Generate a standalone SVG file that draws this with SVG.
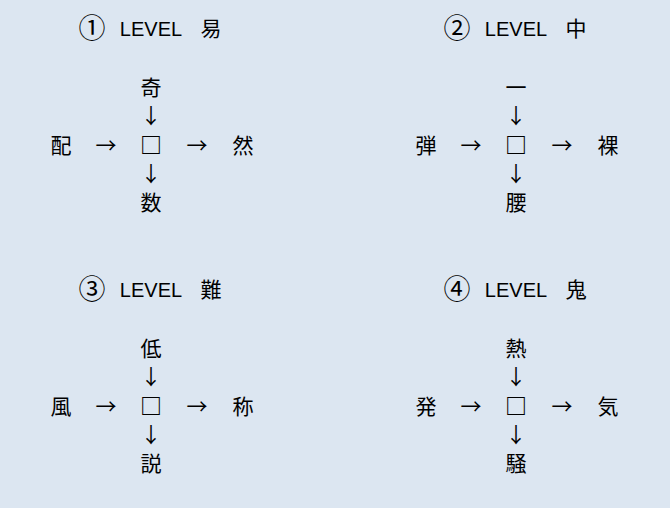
<svg xmlns="http://www.w3.org/2000/svg" width="670" height="508" viewBox="0 0 670 508">
<style>
.t{font-family:"Noto Sans CJK JP","Noto Sans",sans-serif;font-size:21px;fill:#000;text-anchor:middle}
.c{font-family:"Noto Sans CJK JP","Noto Sans",sans-serif;font-size:27px;fill:#000;text-anchor:middle}
.b{font-family:"Noto Sans CJK JP","Noto Sans",sans-serif;font-size:22px;font-weight:bold;fill:#000;text-anchor:middle}
.l{font-family:"Liberation Sans","Noto Sans",sans-serif;font-size:20px;fill:#000;text-anchor:middle}
</style>
<rect width="670" height="508" fill="#dce6f1"/>
<g id="p1">
  <g id="title1"><text class="c" x="92" y="38">①</text><text class="l" x="151" y="36">LEVEL</text><text class="t" x="211" y="36">易</text></g>
  <g id="n1-top"><text class="t" x="151" y="95">奇</text></g>
  <g id="n1-left"><text class="t" x="61" y="153">配</text></g>
  <g id="n1-center"><text class="b" x="151" y="153">□</text></g>
  <g id="n1-right"><text class="t" x="243" y="153">然</text></g>
  <g id="n1-bottom"><text class="t" x="151" y="210">数</text></g>
</g>
<g id="p2">
  <g id="title2"><text class="c" x="457" y="38">②</text><text class="l" x="516" y="36">LEVEL</text><text class="t" x="576" y="36">中</text></g>
  <g id="n2-top"><text class="t" x="516" y="95">一</text></g>
  <g id="n2-left"><text class="t" x="426" y="153">弾</text></g>
  <g id="n2-center"><text class="b" x="516" y="153">□</text></g>
  <g id="n2-right"><text class="t" x="608" y="153">裸</text></g>
  <g id="n2-bottom"><text class="t" x="516" y="210">腰</text></g>
</g>
<g id="p3">
  <g id="title3"><text class="c" x="92" y="299">③</text><text class="l" x="151" y="297">LEVEL</text><text class="t" x="211" y="297">難</text></g>
  <g id="n3-top"><text class="t" x="151" y="356">低</text></g>
  <g id="n3-left"><text class="t" x="61" y="414">風</text></g>
  <g id="n3-center"><text class="b" x="151" y="414">□</text></g>
  <g id="n3-right"><text class="t" x="243" y="414">称</text></g>
  <g id="n3-bottom"><text class="t" x="151" y="471">説</text></g>
</g>
<g id="p4">
  <g id="title4"><text class="c" x="457" y="299">④</text><text class="l" x="516" y="297">LEVEL</text><text class="t" x="576" y="297">鬼</text></g>
  <g id="n4-top"><text class="t" x="516" y="356">熱</text></g>
  <g id="n4-left"><text class="t" x="426" y="414">発</text></g>
  <g id="n4-center"><text class="b" x="516" y="414">□</text></g>
  <g id="n4-right"><text class="t" x="608" y="414">気</text></g>
  <g id="n4-bottom"><text class="t" x="516" y="471">騒</text></g>
</g>
<g id="connectors">
  <text class="t" x="106" y="153">→</text><text class="t" x="197" y="153">→</text>
  <text class="t" x="151" y="123">↓</text><text class="t" x="151" y="181">↓</text>
  <text class="t" x="471" y="153">→</text><text class="t" x="562" y="153">→</text>
  <text class="t" x="516" y="123">↓</text><text class="t" x="516" y="181">↓</text>
  <text class="t" x="106" y="414">→</text><text class="t" x="197" y="414">→</text>
  <text class="t" x="151" y="384">↓</text><text class="t" x="151" y="442">↓</text>
  <text class="t" x="471" y="414">→</text><text class="t" x="562" y="414">→</text>
  <text class="t" x="516" y="384">↓</text><text class="t" x="516" y="442">↓</text>
</g>
</svg>
